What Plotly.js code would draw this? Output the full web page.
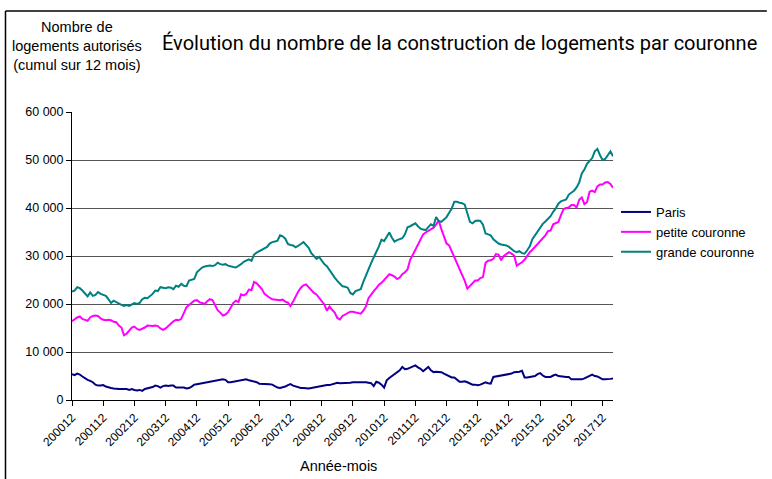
<!DOCTYPE html>
<html>
<head>
<meta charset="utf-8">
<script src="https://cdn.plot.ly/plotly-3.0.1.min.js"></script>
<style>html,body{margin:0;padding:0;background:#fff;}#chart{width:772px;height:479px;}</style>
</head>
<body>
<div id="chart"></div>
<script>
// Monthly series, first month 2000-12 (index 0), last 2018-04 (index 208)
const firstYear = 2000, firstMonth = 12;

const paris = [
5400,5200,5500,5300,4900,4500,4200,4000,3700,3200,
3000,3000,3100,2800,2600,2500,2400,2300,2300,2300,
2300,2300,2100,2300,2100,2000,2100,1900,2300,2400,
2500,2700,3000,2900,2600,2900,3000,2900,3000,3000,
2600,2600,2600,2600,2400,2500,2800,3200,3300,3400,
3500,3500,3600,3700,3800,3900,4000,4100,4300,4200,
3700,3700,3800,3900,3900,4000,4200,4300,4100,4000,
3900,3700,3400,3400,3300,3300,3300,3200,2900,2600,
2500,2600,2800,3100,3300,3000,2800,2600,2500,2500,
2400,2400,2500,2600,2700,2900,3000,3000,3100,3100,
3300,3500,3600,3500,3500,3500,3600,3600,3700,3700,
3700,3800,3700,3700,3600,3500,2900,3800,3600,3200,
2600,4100,4600,5000,5400,5700,6200,6900,6400,6500,
6700,6900,7200,6800,6500,6000,6400,6900,6200,5800,
5900,5800,5800,5500,5200,4900,4700,4700,4300,3800,
3800,3900,3700,3400,3200,3200,3100,3200,3500,3700,
3500,3400,4800,4900,5000,5100,5200,5200,5300,5500,
5800,5800,5900,6100,4700,4700,4800,4800,5000,5400,
5600,5100,4800,4800,4800,5100,5300,5000,4900,4900,
4800,4800,4300,4300,4300,4300,4300,4500,4800,5100,
5300,5000,4900,4600,4300,4300,4300,4400,4500
];

const petiteCouronne = [
16400,16900,17200,17400,16900,16700,16500,17200,17500,17600,
17500,17000,16700,16600,16700,16600,16300,16200,15500,15100,
13500,13800,14400,15100,15300,14800,14600,14800,15100,15500,
15400,15400,15500,15400,14900,14600,14900,15400,16000,16400,
16700,16600,16900,18300,19300,19800,20200,20700,20800,20400,
20200,20000,20600,21000,20800,19700,18700,18200,17600,17800,
18300,19200,20200,20700,20400,22000,21800,22100,23000,22900,
24600,24300,23800,23100,22100,21600,21300,21000,20900,20800,
20800,20900,20500,20300,19600,20500,21600,22600,23400,23900,
24100,23500,22700,22300,22000,21300,20600,19900,18600,19500,
18800,18200,17100,16800,17500,17800,18200,18400,18400,18300,
18100,18000,18600,19500,21200,22100,22700,23300,24000,24400,
25000,25600,26200,26000,25700,25200,25500,26200,26600,27200,
29200,30200,31300,32400,33600,34500,34900,35200,35600,35900,
36600,37400,35600,33900,32600,32200,31000,29500,28400,27400,
26000,24800,23200,23800,24300,24900,24900,25400,25600,28600,
29000,29100,29400,30400,30300,29100,30000,30500,30800,30500,
30100,28000,28300,28700,29200,30100,30800,31300,31900,32400,
32900,33600,34300,35200,35300,36600,36900,37100,38500,39800,
40000,40100,40600,40600,40100,41700,42200,40800,41200,43400,
43600,43300,44500,44900,44900,45300,45400,45000,44200
];

const grandeCouronne = [
22600,22800,23500,23300,22800,22100,21600,22400,21700,21900,
22500,22100,21900,21700,21000,20200,20700,20400,20000,19800,
19600,19800,19600,19900,20200,20000,20200,21000,21300,21200,
21600,22100,22800,22700,23500,23400,23300,23500,23400,23100,
23800,23600,24200,23800,23700,24900,25000,25200,26600,27200,
27600,27800,27900,28000,27900,28100,28600,28300,28200,28300,
28000,27800,27700,27600,27900,28300,28800,29100,29300,29000,
30300,30700,31000,31400,31600,31900,32600,32900,33000,33200,
34300,34100,33600,32500,32300,32200,31800,32100,32500,32900,
32400,31700,30600,30000,29400,29800,29000,28300,27900,27000,
26200,25500,24800,24200,23700,23600,23400,22300,22000,22700,
22900,23100,24600,26000,27200,28500,29700,30800,32000,33400,
33100,34000,34900,33800,33000,33300,33500,33700,34500,36000,
36200,36500,36800,36200,35700,35500,35400,36000,36600,36300,
38100,37300,37100,37600,38100,39000,39900,41300,41300,41100,
41000,40700,39000,37100,36800,37300,37400,37300,36500,34700,
34500,34300,33500,33000,32600,32400,32300,32200,31900,31500,
31000,30800,31000,30600,30500,31200,32000,33500,34300,35000,
35900,36700,37200,37800,38300,39200,39900,40900,41400,41600,
41800,42800,43200,43600,44300,45300,47200,48000,49200,49800,
50400,51800,52300,51000,50000,50200,51000,51800,50800
];

const xTickLabels = ["200012","200112","200212","200312","200412","200512","200612","200712","200812",
                     "200912","201012","201112","201212","201312","201412","201512","201612","201712"];
const yTickValues = [0,10000,20000,30000,40000,50000,60000];
const yTickLabels = ["0","10 000","20 000","30 000","40 000","50 000","60 000"];

// month labels (YYYYMM) for each index
const months = [];
for (let i = 0; i < grandeCouronne.length; i++) {
  const m0 = firstMonth - 1 + i;
  const y = firstYear + Math.floor(m0 / 12);
  const m = (m0 % 12) + 1;
  months.push(String(y) + (m < 10 ? "0" + m : String(m)));
}
const idx = months.map((_, i) => i);
const tickIdx = xTickLabels.map(l => months.indexOf(l));

const FONT = "Liberation Sans, Arial, sans-serif";
function mk(name, vals, color) {
  return {type: "scatter", mode: "lines", name: name, x: idx, y: vals,
          text: months, hovertemplate: "%{text}: %{y}<extra>" + name + "</extra>",
          line: {color: color, width: 2}};
}
const data = [
  mk("Paris", paris, "#000080"),
  mk("petite couronne", petiteCouronne, "#FF00FF"),
  mk("grande couronne", grandeCouronne, "#008080")
];

const L = 72, R = 617, T = 112, B = 400;
const px = v => (v - L) / (R - L);
const py = v => (B - v) / (B - T);

const TITLE = "Évolution du nombre de la construction de logements par couronne";

const layout = {
  width: 772, height: 479,
  margin: {l: L, r: 772 - R, t: T, b: 479 - B, pad: 0},
  paper_bgcolor: "#fff", plot_bgcolor: "#fff",
  font: {family: FONT, color: "#000", size: 12},
  showlegend: true,
  legend: {x: px(620), xanchor: "left", y: py(197), yanchor: "top",
           font: {family: FONT, size: 13, color: "#000"}, bgcolor: "rgba(0,0,0,0)",
           tracegroupgap: 0},
  xaxis: {
    range: [0, idx.length - 1], tickmode: "array", tickvals: tickIdx, ticktext: xTickLabels,
    tickangle: -45, tickfont: {family: FONT, size: 12, color: "#000"},
    ticks: "outside", ticklen: 5, tickcolor: "#000", showline: true, linecolor: "#000", linewidth: 1,
    showgrid: false, zeroline: false, fixedrange: true
  },
  yaxis: {
    range: [0, 60000], tickmode: "array", tickvals: yTickValues, ticktext: yTickLabels,
    tickfont: {family: FONT, size: 12.5, color: "#000"},
    ticks: "outside", ticklen: 5, tickcolor: "#000", showline: true, linecolor: "#000", linewidth: 1,
    showgrid: true, gridcolor: "#555", gridwidth: 1.3, zeroline: false, fixedrange: true
  },
  annotations: [
    {text: TITLE,
     xref: "paper", yref: "paper", x: px(161), y: py(43), xanchor: "left", yanchor: "middle",
     showarrow: false, font: {family: "Roboto, Noto Sans, sans-serif", size: 20, color: "#000"}},
    {text: "Nombre de<br>logements autorisés<br>(cumul sur 12 mois)",
     xref: "paper", yref: "paper", x: px(77), y: py(46), xanchor: "center", yanchor: "middle",
     showarrow: false, align: "center", font: {family: FONT, size: 14.5, color: "#000"}},
    {text: "Année-mois", xref: "paper", yref: "paper", x: px(340), y: py(466),
     xanchor: "center", yanchor: "middle", showarrow: false, font: {family: FONT, size: 14.5, color: "#000"}}
  ],
  shapes: [
    {type: "line", xref: "paper", yref: "paper", x0: px(5), x1: px(772), y0: py(11), y1: py(11),
     line: {color: "#000", width: 1.5}},
    {type: "line", xref: "paper", yref: "paper", x0: px(5), x1: px(5), y0: py(11), y1: py(479),
     line: {color: "#000", width: 1.5}}
  ]
};

Plotly.newPlot("chart", data, layout, {displayModeBar: false});
</script>
</body>
</html>
